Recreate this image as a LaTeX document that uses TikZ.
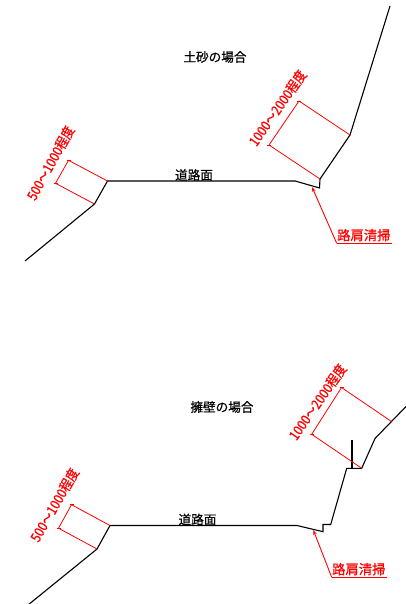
\documentclass[tikz,border=0pt]{standalone}
\usepackage{fontspec}
\newfontfamily\jp[FakeBold=0.7]{Noto Sans CJK JP}
\newfontfamily\jpn[FakeBold=0.6,FakeStretch=0.85]{Noto Sans CJK JP}
\usetikzlibrary{arrows.meta,calc}
\begin{document}
\begin{tikzpicture}[x=1pt,y=-1pt,
  ground/.style={line width=1.1pt, black, line join=miter},
  post/.style={line width=1.8pt, black},
  dimred/.style={red, line width=0.8pt},
  tick/.style={red, line width=0.8pt},
  redlabel/.style={red, font=\jpn\fontsize{14}{14}\selectfont, inner sep=0pt},
  blacklabel/.style={black, font=\jp\fontsize{12.6}{12.6}\selectfont, inner sep=0pt},
  redtext/.style={red, font=\jp\fontsize{13.3}{13.3}\selectfont, inner sep=0pt},
  leader/.style={red, line width=0.9pt, -{Stealth[length=5pt,width=3.5pt]}},
]
\useasboundingbox (0,0) rectangle (405,604);

% ---------- upper section: earth slope ----------
\coordinate (A1) at (25,261);
\coordinate (A2) at (94.5,204);
\coordinate (A3) at (107.5,181);
\coordinate (A4) at (295,181);
\coordinate (A5) at (319.5,188);
\coordinate (A6) at (320,179);
\coordinate (A7) at (350,135);
\coordinate (A8) at (390,6);
\draw[ground] (A1) -- (A2) -- (A3) -- (A4) -- (A5) -- (A6) -- (A7) -- (A8);

% left dimension
\coordinate (D1) at ($(A3)+(-39,-20.7)$);
\coordinate (D2) at ($(A2)+(-39,-20.7)$);
\draw[dimred] (A3) -- (D1) -- (D2) -- (A2);
\draw[tick] ($(D1)+(-2,0)$) -- ($(D1)+(2,0)$);
\draw[tick] ($(D2)+(-2,0)$) -- ($(D2)+(2,0)$);
\node[redlabel, rotate=61] (L1) at (50.5,163) {500～1000程度};

% right dimension
\coordinate (D3) at ($(A6)+(-51,-34)$);
\coordinate (D4) at ($(A7)+(-51,-34)$);
\draw[dimred] (A6) -- (D3) -- (D4) -- (A7);
\draw[tick] ($(D3)+(-2,0)$) -- ($(D3)+(2,0)$);
\draw[tick] ($(D4)+(-2,0)$) -- ($(D4)+(2,0)$);
\node[redlabel, rotate=55] (L2) at (277.5,108) {1000～2000程度};

% labels
\node[blacklabel] (T1) at (215,57) {土砂の場合};
\node[blacklabel, anchor=south] (R1) at (194,181) {道路面};

% leader
\coordinate (E1) at (336.7,243.3);
\coordinate (E2) at (391.7,243.3);
\coordinate (E3) at (312,187);
\draw[red, line width=0.9pt] (E2) -- (E1);
\draw[leader] (E1) -- (E3);
\node[redtext, anchor=south west] (S1) at (337,241.5) {路肩清掃};

% ---------- lower section: retaining wall ----------
\coordinate (B1) at (28,605);
\coordinate (B2) at (97,549);
\coordinate (B3) at (110,525.5);
\coordinate (B4) at (297,525.5);
\coordinate (B5) at (323,531.7);
\coordinate (B6) at (323,524.5);
\coordinate (B7) at (330.7,524.5);
\coordinate (B8) at (346.7,468.3);
\coordinate (B9) at (361.7,468.3);
\coordinate (B10) at (375,438.5);
\coordinate (B11) at (406,406.5);
\draw[ground] (B1) -- (B2) -- (B3) -- (B4) -- (B5) -- (B6) -- (B7) -- (B8) -- (B9) -- (B10) -- (B11);
\coordinate (P1) at (352.3,440);
\coordinate (P2) at (352.3,468.3);
\draw[post] (P1) -- (P2);

% left dimension
\coordinate (D5) at ($(B3)+(-38.5,-20.8)$);
\coordinate (D6) at ($(B2)+(-38.5,-20.8)$);
\draw[dimred] (B3) -- (D5) -- (D6) -- (B2);
\draw[tick] ($(D5)+(-2,0)$) -- ($(D5)+(2,0)$);
\draw[tick] ($(D6)+(-2,0)$) -- ($(D6)+(2,0)$);
\node[redlabel, rotate=60] (L3) at (54.5,505) {500～1000程度};

% right dimension
\coordinate (Q1) at (391.5,421.5);
\coordinate (D7) at ($(B9)+(-50,-34)$);
\coordinate (D8) at ($(Q1)+(-50,-34)$);
\draw[dimred] (B9) -- (D7) -- (D8) -- (Q1);
\draw[tick] ($(D7)+(-2,0)$) -- ($(D7)+(2,0)$);
\draw[tick] ($(D8)+(-2,0)$) -- ($(D8)+(2,0)$);
\node[redlabel, rotate=55] (L4) at (317.5,402) {1000～2000程度};

% labels
\node[blacklabel] (T2) at (222,407) {擁壁の場合};
\node[blacklabel, anchor=south] (R2) at (197.5,525.5) {道路面};

% leader
\coordinate (F1) at (331.7,577.3);
\coordinate (F2) at (386.7,577.3);
\coordinate (F3) at (313.3,530);
\draw[red, line width=0.9pt] (F2) -- (F1);
\draw[leader] (F1) -- (F3);
\node[redtext, anchor=south west] (S2) at (332,575.5) {路肩清掃};
\end{tikzpicture}
\end{document}
